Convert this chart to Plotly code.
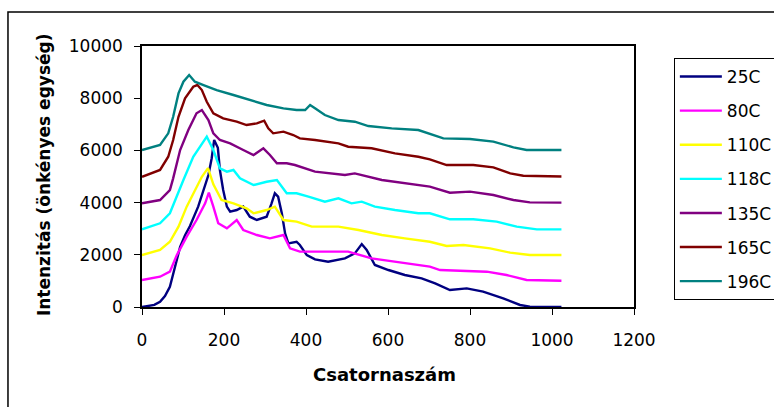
import plotly.graph_objects as go

# Spectra recorded at several temperatures, each offset by 1000 counts
labels = ["25C", "80C", "110C", "118C", "135C", "165C", "196C"]
colors = ["#000080", "#FF00FF", "#FFFF00", "#00FFFF", "#800080", "#800000", "#008080"]

ch_25 = [0, 30, 44, 56, 68, 80, 93, 105, 117, 137, 154, 162, 170, 176, 185, 190, 198, 207, 215, 231,
         247, 263, 280, 304, 316, 324, 332, 341, 349, 357, 377, 385, 402, 422, 454, 495, 519, 536, 548, 568,
         601, 641, 682, 715, 751, 792, 832, 881, 922, 946, 962, 1023]
int_25 = [0, 80, 203, 420, 778, 1500, 2300, 2750, 3100, 3845, 4610, 5057, 5700, 6400, 6100, 5250, 4482, 3845, 3653, 3716,
          3845, 3460, 3333, 3460, 3972, 4356, 4226, 3590, 2823, 2440, 2500, 2375, 1990, 1827, 1737, 1865, 2054, 2410, 2184, 1610,
          1417, 1226, 1100, 908, 651, 715, 587, 332, 77, 13, 0, 0]

ch_80 = [0, 44, 68, 85, 109, 133, 154, 163, 174, 186, 207, 231, 247, 280, 312, 345, 361, 385, 422, 503,
         560, 617, 666, 702, 727, 784, 841, 889, 938, 1023]
int_80 = [1034, 1160, 1353, 1990, 2695, 3333, 3972, 4380, 3845, 3206, 3014, 3333, 2950, 2758, 2630, 2758, 2247, 2120, 2120, 2120,
          1865, 1737, 1635, 1545, 1417, 1392, 1353, 1226, 1034, 1008]

ch_110 = [0, 44, 68, 89, 109, 129, 146, 161, 174, 194, 223, 255, 272, 304, 324, 345, 377, 414, 479, 528,
          585, 641, 702, 743, 784, 849, 898, 946, 1023]
int_110 = [1990, 2184, 2500, 3078, 3845, 4480, 4990, 5320, 4700, 4099, 3972, 3780, 3590, 3716, 3845, 3333, 3270, 3078, 3078, 2950,
           2758, 2630, 2500, 2337, 2375, 2247, 2082, 1990, 1990]

ch_118 = [0, 44, 68, 89, 101, 125, 146, 158, 174, 190, 207, 223, 239, 272, 304, 329, 353, 377, 406, 446,
          479, 511, 536, 568, 617, 674, 702, 751, 808, 865, 914, 963, 1023]
int_118 = [2976, 3206, 3590, 4356, 4865, 5758, 6270, 6525, 6015, 5313, 5185, 5250, 4930, 4674, 4800, 4865, 4356, 4356, 4226, 4035,
           4164, 3972, 4035, 3845, 3716, 3590, 3590, 3360, 3360, 3270, 3078, 2976, 2976]

ch_135 = [0, 44, 68, 76, 93, 113, 133, 146, 162, 174, 190, 215, 247, 272, 296, 312, 329, 353, 373, 422,
          495, 519, 585, 641, 702, 751, 800, 857, 906, 946, 1023]
int_135 = [3972, 4099, 4482, 4930, 6015, 6780, 7420, 7547, 7164, 6654, 6398, 6270, 6015, 5823, 6080, 5823, 5505, 5505, 5440, 5185,
           5057, 5120, 4865, 4738, 4610, 4380, 4420, 4290, 4099, 4010, 4000]

ch_165 = [0, 44, 64, 76, 89, 105, 125, 135, 146, 158, 174, 198, 231, 255, 280, 298, 308, 320, 345, 369,
          385, 422, 479, 503, 560, 617, 674, 702, 743, 808, 857, 898, 930, 1023]
int_165 = [4990, 5250, 5758, 6398, 7290, 7995, 8440, 8505, 8313, 7865, 7420, 7230, 7100, 6972, 7037, 7137, 6845, 6654, 6717, 6590,
           6462, 6398, 6270, 6142, 6080, 5888, 5758, 5658, 5440, 5440, 5350, 5120, 5030, 5000]

ch_196 = [0, 44, 64, 76, 89, 101, 115, 129, 150, 182, 223, 263, 304, 345, 377, 398, 410, 422, 446, 479,
          519, 552, 609, 674, 702, 735, 800, 857, 906, 938, 1023]
int_196 = [6015, 6206, 6654, 7290, 8185, 8632, 8888, 8632, 8505, 8313, 8122, 7930, 7739, 7611, 7547, 7547, 7739, 7611, 7356, 7164,
           7100, 6934, 6845, 6780, 6628, 6462, 6436, 6334, 6117, 6015, 6015]

channels = [ch_25, ch_80, ch_110, ch_118, ch_135, ch_165, ch_196]
intensities = [int_25, int_80, int_110, int_118, int_135, int_165, int_196]

x_ticks = [0, 200, 400, 600, 800, 1000, 1200]
y_ticks = [0, 2000, 4000, 6000, 8000, 10000]

FONT = "DejaVu Sans"

fig = go.Figure()
for name, col, xs, ys in zip(labels, colors, channels, intensities):
    fig.add_trace(go.Scatter(
        x=xs, y=ys, mode="lines", name=name, legendgroup=name,
        line=dict(color=col, width=2.4),
    ))

fig.update_layout(
    width=774, height=407,
    margin=dict(l=142, r=140, t=46, b=100, autoexpand=False),
    paper_bgcolor="white", plot_bgcolor="white",
    font=dict(family=FONT, size=17, color="black"),
    showlegend=True,
    legend=dict(
        x=1.081, y=0.954, xanchor="left", yanchor="top",
        bordercolor="black", borderwidth=1, bgcolor="white",
        traceorder="grouped", tracegroupgap=9, itemwidth=42,
        font=dict(family=FONT, size=17, color="black"),
    ),
    xaxis=dict(
        range=[0, 1200], tickvals=x_ticks, ticktext=[str(v) for v in x_ticks],
        showgrid=False, zeroline=False, showline=True, linecolor="black", linewidth=2,
        mirror=True, ticks="outside", ticklen=6, tickcolor="black",
        ticklabelstandoff=11,
    ),
    yaxis=dict(
        range=[0, 10000], tickvals=y_ticks, ticktext=[str(v) for v in y_ticks],
        showgrid=False, zeroline=False, showline=True, linecolor="black", linewidth=1.5,
        mirror=True, ticks="outside", ticklen=6, tickcolor="black",
        ticklabelstandoff=8,
    ),
    annotations=[
        dict(text="<b>Csatornaszám</b>", xref="paper", yref="paper",
             x=0.4919, y=-0.2605, xanchor="center", yanchor="middle",
             showarrow=False, font=dict(family=FONT, size=18)),
        dict(text="<b>Intenzitás (önkényes egység)</b>", xref="paper", yref="paper",
             x=-0.199, y=0.5057, xanchor="center", yanchor="middle", textangle=-90,
             showarrow=False, font=dict(family=FONT, size=17)),
    ],
)

# Outer chart-area frame
fig.add_shape(type="rect", xref="paper", yref="paper",
              x0=-0.2724, y0=-0.6, x1=1.5, y1=1.1303,
              line=dict(color="black", width=1.5), layer="below")

fig.write_html("out.html")
